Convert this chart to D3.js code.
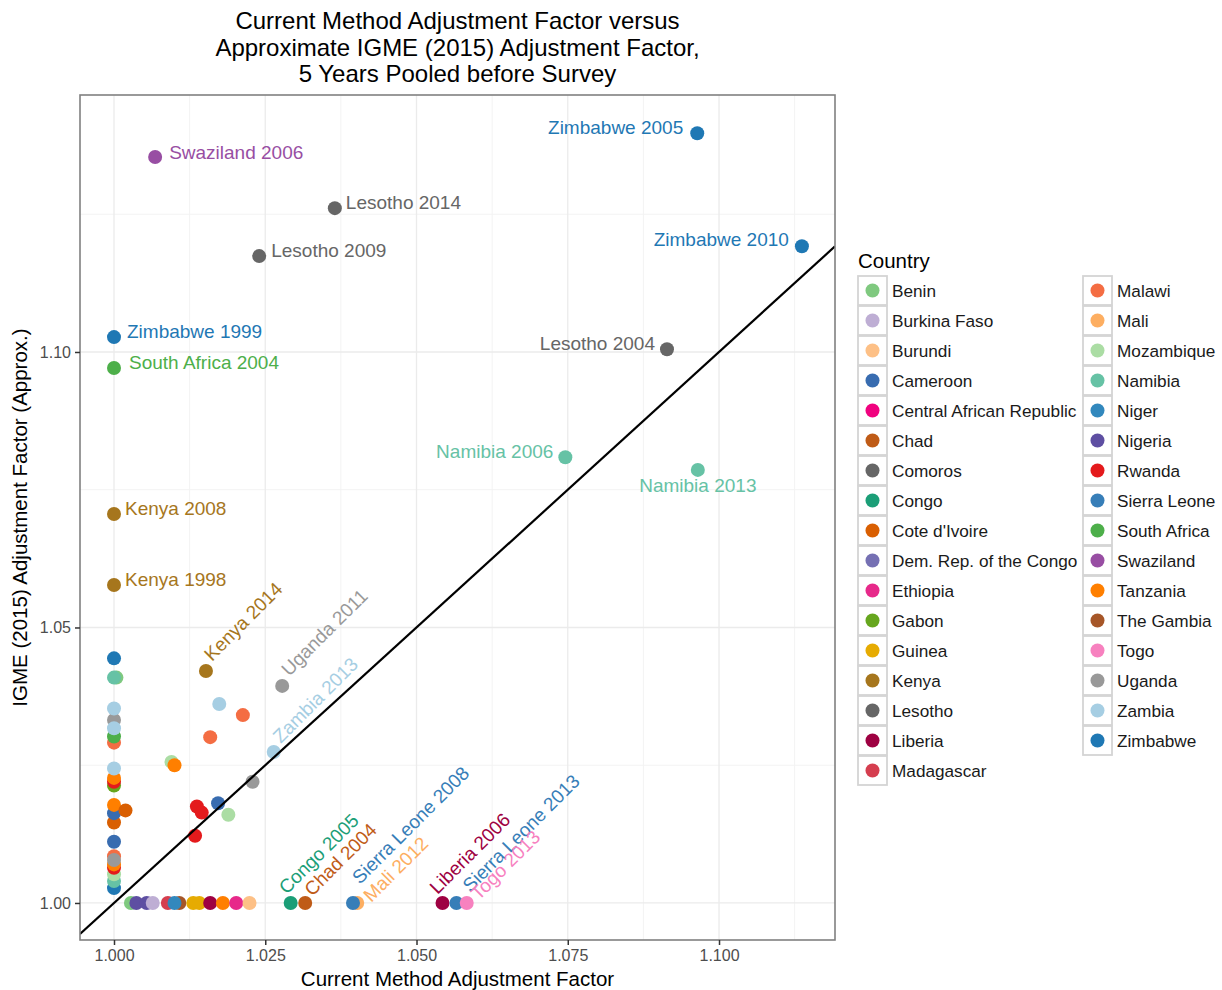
<!DOCTYPE html>
<html>
<head>
<meta charset="utf-8">
<script src="https://cdn.jsdelivr.net/npm/d3@7"></script>
<style>
  body { margin: 0; background: #fff; }
  svg { font-family: "Liberation Sans", Arial, Helvetica, sans-serif; }
</style>
</head>
<body>
<div id="chart"></div>
<script>
// legend order + colours
const countries = ["Benin", "Burkina Faso", "Burundi", "Cameroon", "Central African Republic", "Chad",
  "Comoros", "Congo", "Cote d'Ivoire", "Dem. Rep. of the Congo", "Ethiopia", "Gabon", "Guinea",
  "Kenya", "Lesotho", "Liberia", "Madagascar", "Malawi", "Mali", "Mozambique", "Namibia", "Niger",
  "Nigeria", "Rwanda", "Sierra Leone", "South Africa", "Swaziland", "Tanzania", "The Gambia",
  "Togo", "Uganda", "Zambia", "Zimbabwe"];
const countryColors = ["#7fc97f", "#beaed4", "#fdc086", "#386cb0", "#f0027f", "#bf5b17",
  "#666666", "#1b9e77", "#d95f02", "#7570b3", "#e7298a", "#66a61e", "#e6ab02",
  "#a6761d", "#666666", "#9e0142", "#d53e4f", "#f46d43", "#fdae61", "#abdda4", "#66c2a5", "#3288bd",
  "#5e4fa2", "#e41a1c", "#377eb8", "#4daf4a", "#984ea3", "#ff7f00", "#a65628",
  "#f781bf", "#999999", "#a6cee3", "#1f78b4"];

// survey points
const ptCountry = [
  "Zimbabwe", "Benin", "Namibia", "Uganda", "Zambia", "Malawi", "South Africa", "Zambia",
  "Gabon", "Rwanda", "Tanzania", "Zambia", "Cote d'Ivoire", "Cameroon", "Tanzania", "Cameroon",
  "Zimbabwe", "Namibia", "Mozambique", "Rwanda", "Tanzania", "Malawi", "Uganda",
  "Cote d'Ivoire", "Zambia", "Malawi", "Malawi", "Mozambique", "Tanzania", "Uganda",
  "Rwanda", "Rwanda", "Cameroon", "Mozambique", "Rwanda",
  "Benin", "Nigeria", "Nigeria", "Burkina Faso", "Madagascar", "The Gambia", "Niger",
  "Guinea", "Guinea", "Liberia", "Tanzania", "Ethiopia", "Burundi",
  "Swaziland", "Lesotho", "Lesotho", "Zimbabwe", "Zimbabwe", "Zimbabwe", "South Africa",
  "Lesotho", "Namibia", "Namibia", "Kenya", "Kenya", "Kenya", "Uganda", "Zambia",
  "Congo", "Chad", "Mali", "Sierra Leone", "Liberia", "Sierra Leone", "Togo"];
const ptX = [
  1.0000, 1.0004, 1.0000, 1.0000, 1.0000, 1.0000, 1.0000, 1.0000,
  1.0000, 1.0000, 1.0000, 1.0000, 1.0000, 1.0000, 1.0000, 1.0000,
  1.0000, 1.0000, 1.0000, 1.0000, 1.0000, 1.0000, 1.0000,
  1.0019, 1.0174, 1.0213, 1.0159, 1.0095, 1.0100, 1.0229,
  1.0137, 1.0145, 1.0172, 1.0189, 1.0134,
  1.0028, 1.0037, 1.0054, 1.0064, 1.0089, 1.0108, 1.0100,
  1.0131, 1.0141, 1.0159, 1.0180, 1.0202, 1.0224,
  1.0068, 1.0365, 1.0240, 1.0964, 1.1137, 1.0000, 1.0000,
  1.0914, 1.0746, 1.0965, 1.0000, 1.0000, 1.0152, 1.0278, 1.0264,
  1.0292, 1.0316, 1.0402, 1.0395, 1.0543, 1.0566, 1.0583];
const ptY = [
  1.0444, 1.0409, 1.0409, 1.0332, 1.0353, 1.0291, 1.0302, 1.0317,
  1.0213, 1.0220, 1.0227, 1.0244, 1.0146, 1.0163, 1.0178, 1.0111,
  1.0027, 1.0040, 1.0052, 1.0064, 1.0070, 1.0085, 1.0078,
  1.0168, 1.0361, 1.0341, 1.0301, 1.0256, 1.0250, 1.0220,
  1.0175, 1.0164, 1.0181, 1.0160, 1.0122,
  1.0000, 1.0000, 1.0000, 1.0000, 1.0000, 1.0000, 1.0000,
  1.0000, 1.0000, 1.0000, 1.0000, 1.0000, 1.0000,
  1.1354, 1.1261, 1.1174, 1.1397, 1.1192, 1.1027, 1.0971,
  1.1005, 1.0809, 1.0786, 1.0706, 1.0577, 1.0421, 1.0394, 1.0274,
  1.0000, 1.0000, 1.0000, 1.0000, 1.0000, 1.0000, 1.0000];
const ptLabel = [
  "", "", "", "", "", "", "", "", "", "", "", "", "", "", "", "",
  "", "", "", "", "", "", "",
  "", "", "", "", "", "", "", "", "", "", "", "",
  "", "", "", "", "", "", "", "", "", "", "", "", "",
  "Swaziland 2006", "Lesotho 2014", "Lesotho 2009", "Zimbabwe 2005", "Zimbabwe 2010",
  "Zimbabwe 1999", "South Africa 2004", "Lesotho 2004", "Namibia 2006", "Namibia 2013",
  "Kenya 2008", "Kenya 1998", "Kenya 2014", "Uganda 2011", "Zambia 2013",
  "Congo 2005", "Chad 2004", "Mali 2012", "Sierra Leone 2008", "Liberia 2006",
  "Sierra Leone 2013", "Togo 2013"];

const xTicks = [1.000, 1.025, 1.050, 1.075, 1.100];
const yTicks = [1.00, 1.05, 1.10];
const xMinor = [1.0125, 1.0375, 1.0625, 1.0875, 1.1125];
const yMinor = [1.025, 1.075, 1.125];

const titleLines = ["Current Method Adjustment Factor versus",
  "Approximate IGME (2015) Adjustment Factor,", "5 Years Pooled before Survey"];
const xTitle = "Current Method Adjustment Factor";
const yTitle = "IGME (2015) Adjustment Factor (Approx.)";
const legendTitle = "Country";

// label nudges (pixels from the point), like the repel result in the picture
const labelPlace = {
  "Swaziland 2006": [14, -5, "start", 0],
  "Lesotho 2014": [11, -6, "start", 0],
  "Lesotho 2009": [12, -6, "start", 0],
  "Zimbabwe 2005": [-14, -6, "end", 0],
  "Zimbabwe 2010": [-13, -7, "end", 0],
  "Zimbabwe 1999": [13, -6, "start", 0],
  "South Africa 2004": [15, -6, "start", 0],
  "Lesotho 2004": [-12, -6, "end", 0],
  "Namibia 2006": [-12, -6, "end", 0],
  "Namibia 2013": [0, 15, "middle", 0],
  "Kenya 2008": [11, -6, "start", 0],
  "Kenya 1998": [11, -6, "start", 0],
  "Kenya 2014": [6, -9, "start", -45],
  "Uganda 2011": [7, -9, "start", -45],
  "Zambia 2013": [7, -8, "start", -45],
  "Congo 2005": [-4, -8, "start", -45],
  "Chad 2004": [7, -6, "start", -45],
  "Sierra Leone 2008": [7, -18, "start", -45],
  "Mali 2012": [14, 0, "start", -45],
  "Liberia 2006": [-5, -8, "start", -45],
  "Sierra Leone 2013": [14, -10, "start", -45],
  "Togo 2013": [12, -2, "start", -45]
};

const W = 1222, H = 990;
const panel = {left: 80, top: 95, right: 835, bottom: 940};

const color = d3.scaleOrdinal().domain(countries).range(countryColors);

const x = d3.scaleLinear().domain([0.99438, 1.11917]).range([panel.left, panel.right]);
const y = d3.scaleLinear().domain([0.99328, 1.14664]).range([panel.bottom, panel.top]);

const svg = d3.select("#chart").append("svg")
  .attr("width", W).attr("height", H);

// panel background + grid
svg.append("rect")
  .attr("x", panel.left).attr("y", panel.top)
  .attr("width", panel.right - panel.left).attr("height", panel.bottom - panel.top)
  .attr("fill", "#fff");

const grid = svg.append("g");
grid.selectAll(".xminor").data(xMinor).join("line")
  .attr("x1", d => x(d)).attr("x2", d => x(d))
  .attr("y1", panel.top).attr("y2", panel.bottom)
  .attr("stroke", "#f3f3f3").attr("stroke-width", 1);
grid.selectAll(".yminor").data(yMinor).join("line")
  .attr("y1", d => y(d)).attr("y2", d => y(d))
  .attr("x1", panel.left).attr("x2", panel.right)
  .attr("stroke", "#f3f3f3").attr("stroke-width", 1);
grid.selectAll(".xmajor").data(xTicks).join("line")
  .attr("x1", d => x(d)).attr("x2", d => x(d))
  .attr("y1", panel.top).attr("y2", panel.bottom)
  .attr("stroke", "#ebebeb").attr("stroke-width", 1.3);
grid.selectAll(".ymajor").data(yTicks).join("line")
  .attr("y1", d => y(d)).attr("y2", d => y(d))
  .attr("x1", panel.left).attr("x2", panel.right)
  .attr("stroke", "#ebebeb").attr("stroke-width", 1.3);

svg.append("clipPath").attr("id", "clip").append("rect")
  .attr("x", panel.left).attr("y", panel.top)
  .attr("width", panel.right - panel.left).attr("height", panel.bottom - panel.top);

const plot = svg.append("g").attr("clip-path", "url(#clip)");

// points
const pts = ptX.map((v, i) => ({c: ptCountry[i], x: v, y: ptY[i], label: ptLabel[i]}));

plot.selectAll("circle.pt").data(pts).join("circle")
  .attr("class", "pt")
  .attr("cx", d => x(d.x)).attr("cy", d => y(d.y))
  .attr("r", 7)
  .attr("fill", d => color(d.c));

// y = x reference line
const xd = x.domain();
plot.append("line")
  .attr("x1", x(xd[0])).attr("y1", y(xd[0]))
  .attr("x2", x(xd[1])).attr("y2", y(xd[1]))
  .attr("stroke", "#000").attr("stroke-width", 2.2);

// labels
plot.selectAll("text.lab").data(pts.filter(d => d.label !== "")).join("text")
  .attr("class", "lab")
  .attr("transform", d => {
    const p = labelPlace[d.label];
    return "translate(" + (x(d.x) + p[0]) + "," + (y(d.y) + p[1]) + ") rotate(" + p[3] + ")";
  })
  .attr("text-anchor", d => labelPlace[d.label][2])
  .attr("dy", d => labelPlace[d.label][3] === 0 ? "0.35em" : 0)
  .attr("font-size", 19)
  .attr("fill", d => color(d.c))
  .text(d => d.label);

// panel border
svg.append("rect")
  .attr("x", panel.left).attr("y", panel.top)
  .attr("width", panel.right - panel.left).attr("height", panel.bottom - panel.top)
  .attr("fill", "none").attr("stroke", "#808080").attr("stroke-width", 1.6);

// axes
const xAxis = svg.append("g")
  .attr("transform", "translate(0," + panel.bottom + ")")
  .call(d3.axisBottom(x).tickValues(xTicks).tickFormat(d3.format(".3f")).tickSize(5).tickPadding(5));
const yAxis = svg.append("g")
  .attr("transform", "translate(" + panel.left + ",0)")
  .call(d3.axisLeft(y).tickValues(yTicks).tickFormat(d3.format(".2f")).tickSize(5).tickPadding(4));
[xAxis, yAxis].forEach(a => {
  a.select(".domain").remove();
  a.selectAll(".tick line").attr("stroke", "#333").attr("stroke-width", 1.5);
  a.selectAll(".tick text").attr("fill", "#4d4d4d").attr("font-size", 16)
    .attr("font-family", "Liberation Sans, Arial, sans-serif");
});

// titles
svg.append("text")
  .attr("x", (panel.left + panel.right) / 2).attr("y", 986)
  .attr("text-anchor", "middle").attr("font-size", 20.5).attr("fill", "#000")
  .text(xTitle);
svg.append("text")
  .attr("transform", "translate(27," + (panel.top + panel.bottom) / 2 + ") rotate(-90)")
  .attr("text-anchor", "middle").attr("font-size", 20.5).attr("fill", "#000")
  .text(yTitle);
svg.append("g").selectAll("text").data(titleLines).join("text")
  .attr("x", (panel.left + panel.right) / 2)
  .attr("y", (d, i) => 29 + i * 26.7)
  .attr("text-anchor", "middle").attr("font-size", 24).attr("fill", "#000")
  .text(d => d);

// legend
const legend = svg.append("g").attr("transform", "translate(857,0)");
legend.append("text").attr("x", 1).attr("y", 268)
  .attr("font-size", 20.5).attr("fill", "#000").text(legendTitle);

const perCol = 17, rowH = 30, colW = 225, top0 = 275;
const items = legend.selectAll("g.item").data(countries).join("g")
  .attr("class", "item")
  .attr("transform", (d, i) => "translate(" + (Math.floor(i / perCol) * colW) + "," + (top0 + (i % perCol) * rowH) + ")");
items.append("rect")
  .attr("x", 1).attr("y", 1).attr("width", 29).attr("height", 29)
  .attr("fill", "#fff").attr("stroke", "#d4d4d4").attr("stroke-width", 1.8);
items.append("circle")
  .attr("cx", 15.5).attr("cy", 15.5).attr("r", 7)
  .attr("fill", d => color(d));
items.append("text")
  .attr("x", 35).attr("y", 15.5).attr("dy", "0.35em")
  .attr("font-size", 17.2).attr("fill", "#1a1a1a")
  .text(d => d);
</script>
</body>
</html>
